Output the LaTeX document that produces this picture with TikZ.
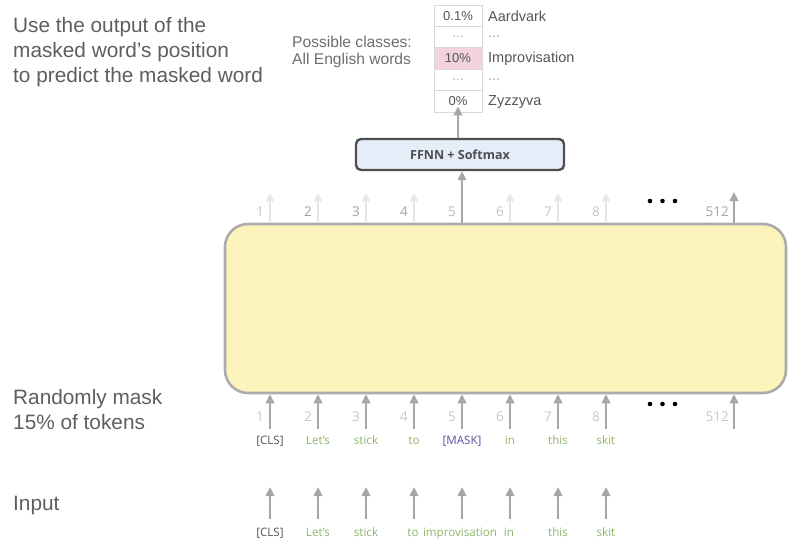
\documentclass[tikz,border=0pt]{standalone}
\usepackage{fontspec}
\setmainfont{Liberation Sans}
\newfontfamily\os{Open Sans}
\usetikzlibrary{arrows.meta}
\definecolor{boxfill}{HTML}{FCF3BB}
\definecolor{boxline}{HTML}{ABABAB}
\definecolor{ffnnfill}{HTML}{E4EDF8}
\definecolor{ffnnline}{HTML}{4F4F4F}
\definecolor{arrgray}{HTML}{A6A6A6}
\definecolor{arrlight}{HTML}{E6E6E6}
\definecolor{txtgray}{HTML}{555555}
\definecolor{bigtxt}{HTML}{5E5E5E}
\definecolor{wordgreen}{HTML}{8CB56A}
\definecolor{maskpurple}{HTML}{5B4FA3}
\definecolor{clsgray}{HTML}{555555}
\definecolor{pinkcell}{HTML}{F2D3DC}
\definecolor{cellline}{HTML}{D9D9D9}
\definecolor{dotgray}{HTML}{A8A8A8}
\tikzset{
  arr/.style={draw=arrgray, line width=2.6pt, -{Triangle[width=8.5pt,length=9pt]}},
  arrlt/.style={draw=arrlight, line width=2.2pt, -{Triangle[width=7.5pt,length=8pt]}},
  bigtext/.style={font=\fontsize{20.8}{24}\selectfont, text=bigtxt, anchor=base west, inner sep=0pt, align=left},
  tok/.style={font=\os\fontsize{11.6}{13}\selectfont, inner sep=2pt},
  num/.style={font=\os\fontsize{13.5}{15}\selectfont, inner sep=0pt},
  cell/.style={draw=cellline, line width=0.8pt, minimum width=48pt, minimum height=21.4pt, inner sep=0pt, font=\fontsize{13}{15}\selectfont, text=txtgray},
  lab/.style={font=\fontsize{14.5}{16}\selectfont, text=txtgray, anchor=west, inner sep=0pt},
  dotc/.style={fill=black, draw=none},
}
\begin{document}
\begin{tikzpicture}[x=1pt,y=-1pt]
\useasboundingbox (0,0) rectangle (800,543);
% left texts
\node[bigtext] (t1) at (13,33) {Use the output of the};
\node[bigtext] (t2) at (13,58) {masked word’s position};
\node[bigtext] (t3) at (13,82) {to predict the masked word};
\node[bigtext] (t4) at (13,404) {Randomly mask};
\node[bigtext] (t5) at (13,429) {15\% of tokens};
\node[bigtext] (t6) at (13,510) {Input};
% big box
\node[draw=boxline, fill=boxfill, line width=2.6pt, rounded corners=23pt, minimum width=561pt, minimum height=169pt] (big) at (505.5,308.5) {};
% FFNN
\node[draw=ffnnline, fill=ffnnfill, line width=2.4pt, rounded corners=5pt, minimum width=208pt, minimum height=31pt, font=\os\bfseries\fontsize{12.5}{14}\selectfont, text=ffnnline] (ffnn) at (460,154.5) {FFNN + Softmax};
% table
\node[cell] (c1) at (458,15.7) {0.1\%};
\node[cell, text=dotgray] (c2) at (458,37.1) {...};
\node[cell, fill=pinkcell] (c3) at (458,58.5) {10\%};
\node[cell, text=dotgray] (c4) at (458,79.9) {...};
\node[cell] (c5) at (458,101.3) {0\%};
\node[lab] (l1) at (488,16) {Aardvark};
\node[lab, text=dotgray] (l2) at (488,37) {...};
\node[lab] (l3) at (488,59) {Improvisation};
\node[lab, text=dotgray] (l4) at (488,80) {...};
\node[lab] (l5) at (488,102) {Zyzzyva};
\node[lab, font=\fontsize{15.6}{17}\selectfont, text=txtgray!85] (pc1) at (292,42) {Possible classes:};
\node[lab, font=\fontsize{15.6}{17}\selectfont, text=txtgray!85] (pc2) at (292,60) {All English words};
\draw[arr] (ffnn.north -| c5.south) -- ([yshift=6pt]c5.south);
% top arrows and numbers
\foreach \i/\x/\c in {1/270/C8C8C8,2/318/A2A2A2,3/366/A2A2A2,4/414/A2A2A2,6/510/C4C4C4,7/558/C4C4C4,8/606/C4C4C4}{
  \coordinate (tp\i) at (\x,193);
  \draw[arrlt] (big.north -| tp\i) -- (tp\i);
  \definecolor{ncol}{HTML}{\c}
  \node[num, text=ncol] (tn\i) at (\x-10,212) {\i};
}
\coordinate (tp5) at (462,193);
\draw[arr] (big.north -| tp5) -- (ffnn.south -| tp5);
\node[num, text=black!28] (tn5) at (452,212) {5};
\coordinate (tp512) at (734,192);
\draw[arr] (big.north -| tp512) -- (tp512);
\node[num, text=black!35, anchor=east] (tn512) at (729,212) {512};
\foreach \xx in {650,662.5,675}{\fill[dotc] (\xx,201) circle (2.3pt);}
% bottom arrows, numbers, tokens
\foreach \i/\x/\w/\col in {1/270/[CLS]/clsgray,2/318/Let’s/wordgreen,3/366/stick/wordgreen,4/414/to/wordgreen,5/462/[MASK]/maskpurple,6/510/in/wordgreen,7/558/this/wordgreen,8/606/skit/wordgreen}{
  \node[tok, text=\col, anchor=base] (mt\i) at (\x,444) {\w};
  \coordinate (ma\i) at (\x,429);
  \draw[arr] (ma\i) -- (big.south -| ma\i);
  \node[num, text=black!22] (bn\i) at (\x-10,417) {\i};
}
\coordinate (ma512) at (734,429);
\draw[arr] (ma512) -- (big.south -| ma512);
\node[num, text=black!22, anchor=east] (bn512) at (729,417) {512};
\foreach \xx in {650,662.5,675}{\fill[dotc] (\xx,404) circle (2.3pt);}
% input arrows and tokens
\foreach \i/\x/\w/\col in {1/270/[CLS]/clsgray,2/318/Let’s/wordgreen,3/366/stick/wordgreen,4/413/to/wordgreen,5/460/improvisation/wordgreen,6/509/in/wordgreen,7/558/this/wordgreen,8/606/skit/wordgreen}{
  \node[tok, text=\col, anchor=base] (it\i) at (\x,536) {\w};
}
\foreach \x [count=\i] in {270,318,366,414,462,510,558,606}{
  \coordinate (ib\i) at (\x,519);
  \coordinate (ia\i) at (\x,487);
  \draw[arr] (ib\i) -- (ia\i);
}
\end{tikzpicture}
\end{document}
